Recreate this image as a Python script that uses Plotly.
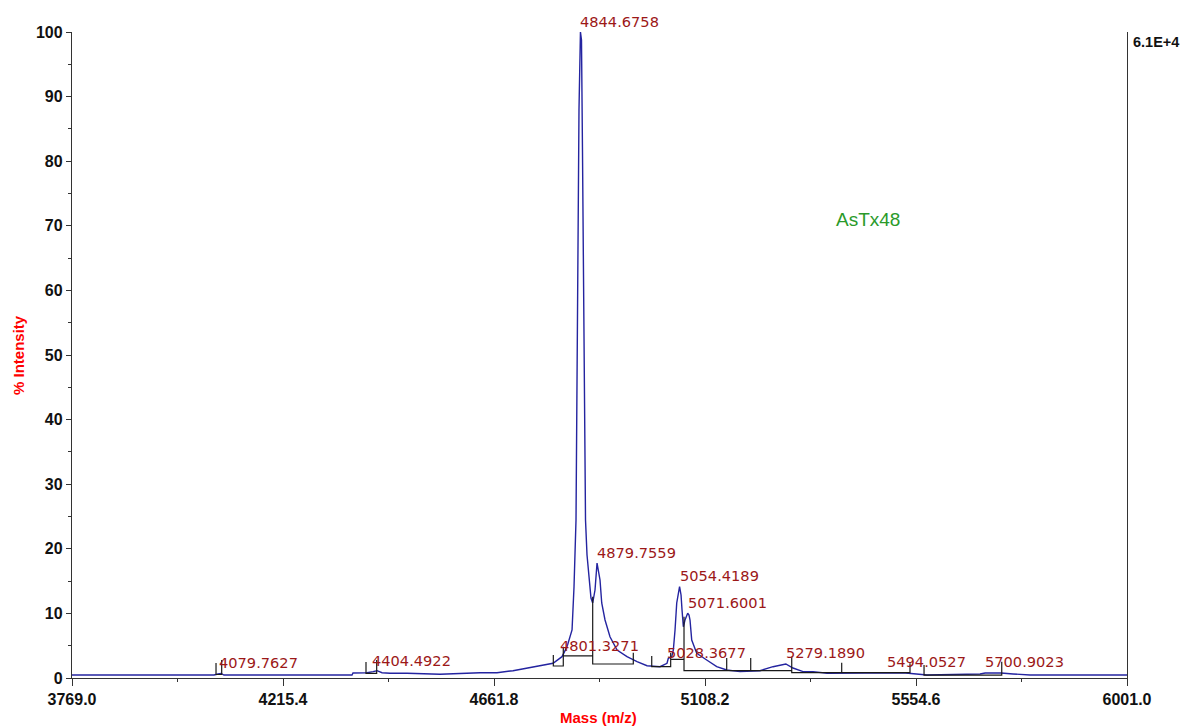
import plotly.graph_objects as go

# ---- spectrum (blue trace): mass (m/z) and % intensity ----
spec_mass = [3769.0, 4069.4, 4077.9, 4084.2, 4090.6, 4361.4, 4363.5, 4393.1, 4405.8, 4414.3,
             4424.9, 4441.8, 4477.8, 4547.6, 4632.2, 4668.2, 4702.0, 4731.6, 4759.1, 4786.7,
             4805.7, 4816.3, 4826.9, 4831.1, 4835.3, 4837.4, 4839.5, 4841.6, 4844.7, 4846.9,
             4849.0, 4851.1, 4853.3, 4855.4, 4858.6, 4862.8, 4867.0, 4870.6, 4875.5, 4879.8,
             4882.3, 4886.1, 4889.7, 4896.7, 4907.2, 4922.1, 4943.2, 4964.4, 4985.5, 5013.0,
             5027.8, 5030.6, 5037.8, 5041.2, 5044.8, 5048.4, 5054.4, 5057.5, 5059.6, 5062.4,
             5065.9, 5071.6, 5074.4, 5076.5, 5080.1, 5090.7, 5111.8, 5133.0, 5154.2, 5182.3,
             5224.6, 5252.1, 5279.2, 5294.4, 5315.6, 5336.7, 5366.4, 5408.7, 5457.3, 5494.1,
             5527.1, 5577.9, 5690.1, 5700.9, 5734.5, 5759.9, 5795.8, 6001.0]
spec_int = [0.46, 0.46, 0.62, 0.70, 0.46, 0.46, 0.77, 0.82, 0.98, 1.13,
            0.82, 0.73, 0.73, 0.57, 0.82, 0.82, 1.13, 1.50, 1.86, 2.28,
            3.30, 4.85, 7.43, 14.13, 24.46, 43.03, 69.35, 87.93, 100.0, 98.76,
            81.73, 58.51, 35.29, 24.46, 19.04, 15.17, 12.38, 11.61, 13.62, 17.80,
            16.72, 15.17, 11.61, 8.98, 6.39, 4.33, 3.30, 2.52, 1.90, 1.75,
            2.28, 3.05, 3.30, 4.33, 7.43, 11.61, 14.13, 12.85, 10.53, 7.94,
            8.98, 10.02, 9.75, 8.98, 5.88, 3.82, 2.79, 1.75, 1.24, 0.98,
            1.13, 1.75, 2.17, 1.55, 0.98, 0.98, 0.73, 0.73, 0.82, 0.82,
            0.82, 0.46, 0.62, 0.77, 0.77, 0.62, 0.46, 0.46]

# ---- peak-detection overlay (black), segments separated by None ----
det_mass = [4073.7, 4073.7, 4085.7, 4085.7, None,
            4391.0, 4391.0, 4413.6, 4413.6, None,
            4787.3, 4787.3, 4808.4, 4808.4, 4808.4, 4870.6, 4870.6, 4870.6, 4956.5, 4956.5, None,
            4995.5, 4995.5, 5035.6, 5035.6, 5035.6, 5063.8, 5063.8, 5063.8, 5291.7, 5291.7,
            5291.7, 5541.9, 5541.9, None,
            5154.1, 5154.1, None, 5204.9, 5204.9, None, 5397.4, 5397.4, None,
            5571.6, 5571.6, 5736.0, 5736.0]
det_int = [2.32, 0.54, 0.54, 2.79, None,
           2.48, 0.73, 0.73, 2.79, None,
           3.56, 1.86, 1.86, 4.85, 3.41, 3.41, 12.59, 2.17, 2.17, 3.92, None,
           3.41, 1.75, 1.75, 3.92, 2.89, 2.89, 9.49, 1.13, 1.13, 3.30,
           0.82, 0.82, 2.28, None,
           3.10, 1.13, None, 3.10, 1.13, None, 2.37, 0.82, None,
           2.01, 0.46, 0.46, 2.52]

# ---- labelled peaks ----
peak_mass = [4079.7627, 4404.4922, 4801.3271, 4844.6758, 4879.7559, 5028.3677,
             5054.4189, 5071.6001, 5279.1890, 5494.0527, 5700.9023]
peak_int = [0.7, 1.0, 3.3, 100.0, 17.8, 2.3, 14.1, 10.0, 2.2, 0.8, 0.8]

# ---- axis ticks ----
x_ticks = [3769.0, 4215.4, 4661.8, 5108.2, 5554.6, 6001.0]
x_minor = [3992.2, 4438.6, 4885.0, 5331.4, 5777.8]
y_ticks = [0, 10, 20, 30, 40, 50, 60, 70, 80, 90, 100]

fig = go.Figure()
fig.add_trace(go.Scatter(x=spec_mass, y=spec_int, mode="lines",
                         line=dict(color="#2424a0", width=1.4), hoverinfo="skip"))
fig.add_trace(go.Scatter(x=det_mass, y=det_int, mode="lines", connectgaps=False,
                         line=dict(color="#1a1a1a", width=1.2), hoverinfo="skip"))

annotations = []
for m, i in zip(peak_mass, peak_int):
    annotations.append(dict(x=m, y=i, text=f"{m:.4f}", showarrow=False,
                            xanchor="left", yanchor="middle", yshift=11, xshift=-2,
                            font=dict(family="DejaVu Sans", size=14.6, color="#9c1818")))
annotations += [
    dict(xref="paper", yref="paper", x=0.7545, y=0.7105, text="AsTx48", showarrow=False,
         xanchor="center", yanchor="middle",
         font=dict(family="Liberation Sans", size=19, color="#2a9a2a")),
    dict(xref="paper", yref="paper", x=1.0035, y=0.9845, text="6.1E+4", showarrow=False,
         xanchor="left", yanchor="middle",
         font=dict(family="Liberation Sans", size=14.5, color="#111111", weight="bold")),
    dict(xref="paper", yref="paper", x=-0.0512, y=0.5, text="% Intensity", showarrow=False,
         textangle=-90, xanchor="center", yanchor="middle",
         font=dict(family="Liberation Sans", size=15, color="#ff0000", weight="bold")),
    dict(xref="paper", yref="paper", x=0.4986, y=-0.0619, text="Mass (m/z)", showarrow=False,
         xanchor="center", yanchor="middle",
         font=dict(family="Liberation Sans", size=15, color="#ff0000", weight="bold")),
]

fig.update_layout(
    width=1182, height=728,
    margin=dict(l=72, r=55, t=32, b=50),
    plot_bgcolor="white", paper_bgcolor="white",
    showlegend=False,
    annotations=annotations,
    xaxis=dict(range=[3769.0, 6001.0], tickmode="array", tickvals=x_ticks,
               ticktext=[f"{v:.1f}" for v in x_ticks],
               showgrid=False, zeroline=False, showline=True, linecolor="#333333",
               linewidth=1.3, ticks="outside", ticklen=7, tickwidth=1.3, tickcolor="#333333",
               tickfont=dict(family="Liberation Sans", size=16, color="#111111", weight="bold"),
               minor=dict(tickmode="array", tickvals=x_minor, ticks="outside", ticklen=3,
                          tickwidth=1.2, tickcolor="#333333", showgrid=False)),
    yaxis=dict(range=[0, 100], tickmode="array", tickvals=y_ticks,
               showgrid=False, zeroline=False, showline=True, linecolor="#333333",
               linewidth=1.3, mirror=True, ticks="outside", ticklen=5, tickwidth=1.3,
               tickcolor="#333333",
               tickfont=dict(family="Liberation Sans", size=16, color="#111111", weight="bold"),
               minor=dict(dtick=5, ticks="outside", ticklen=3, tickwidth=1.2,
                          tickcolor="#333333", showgrid=False)),
)

fig.write_html("out.html")
